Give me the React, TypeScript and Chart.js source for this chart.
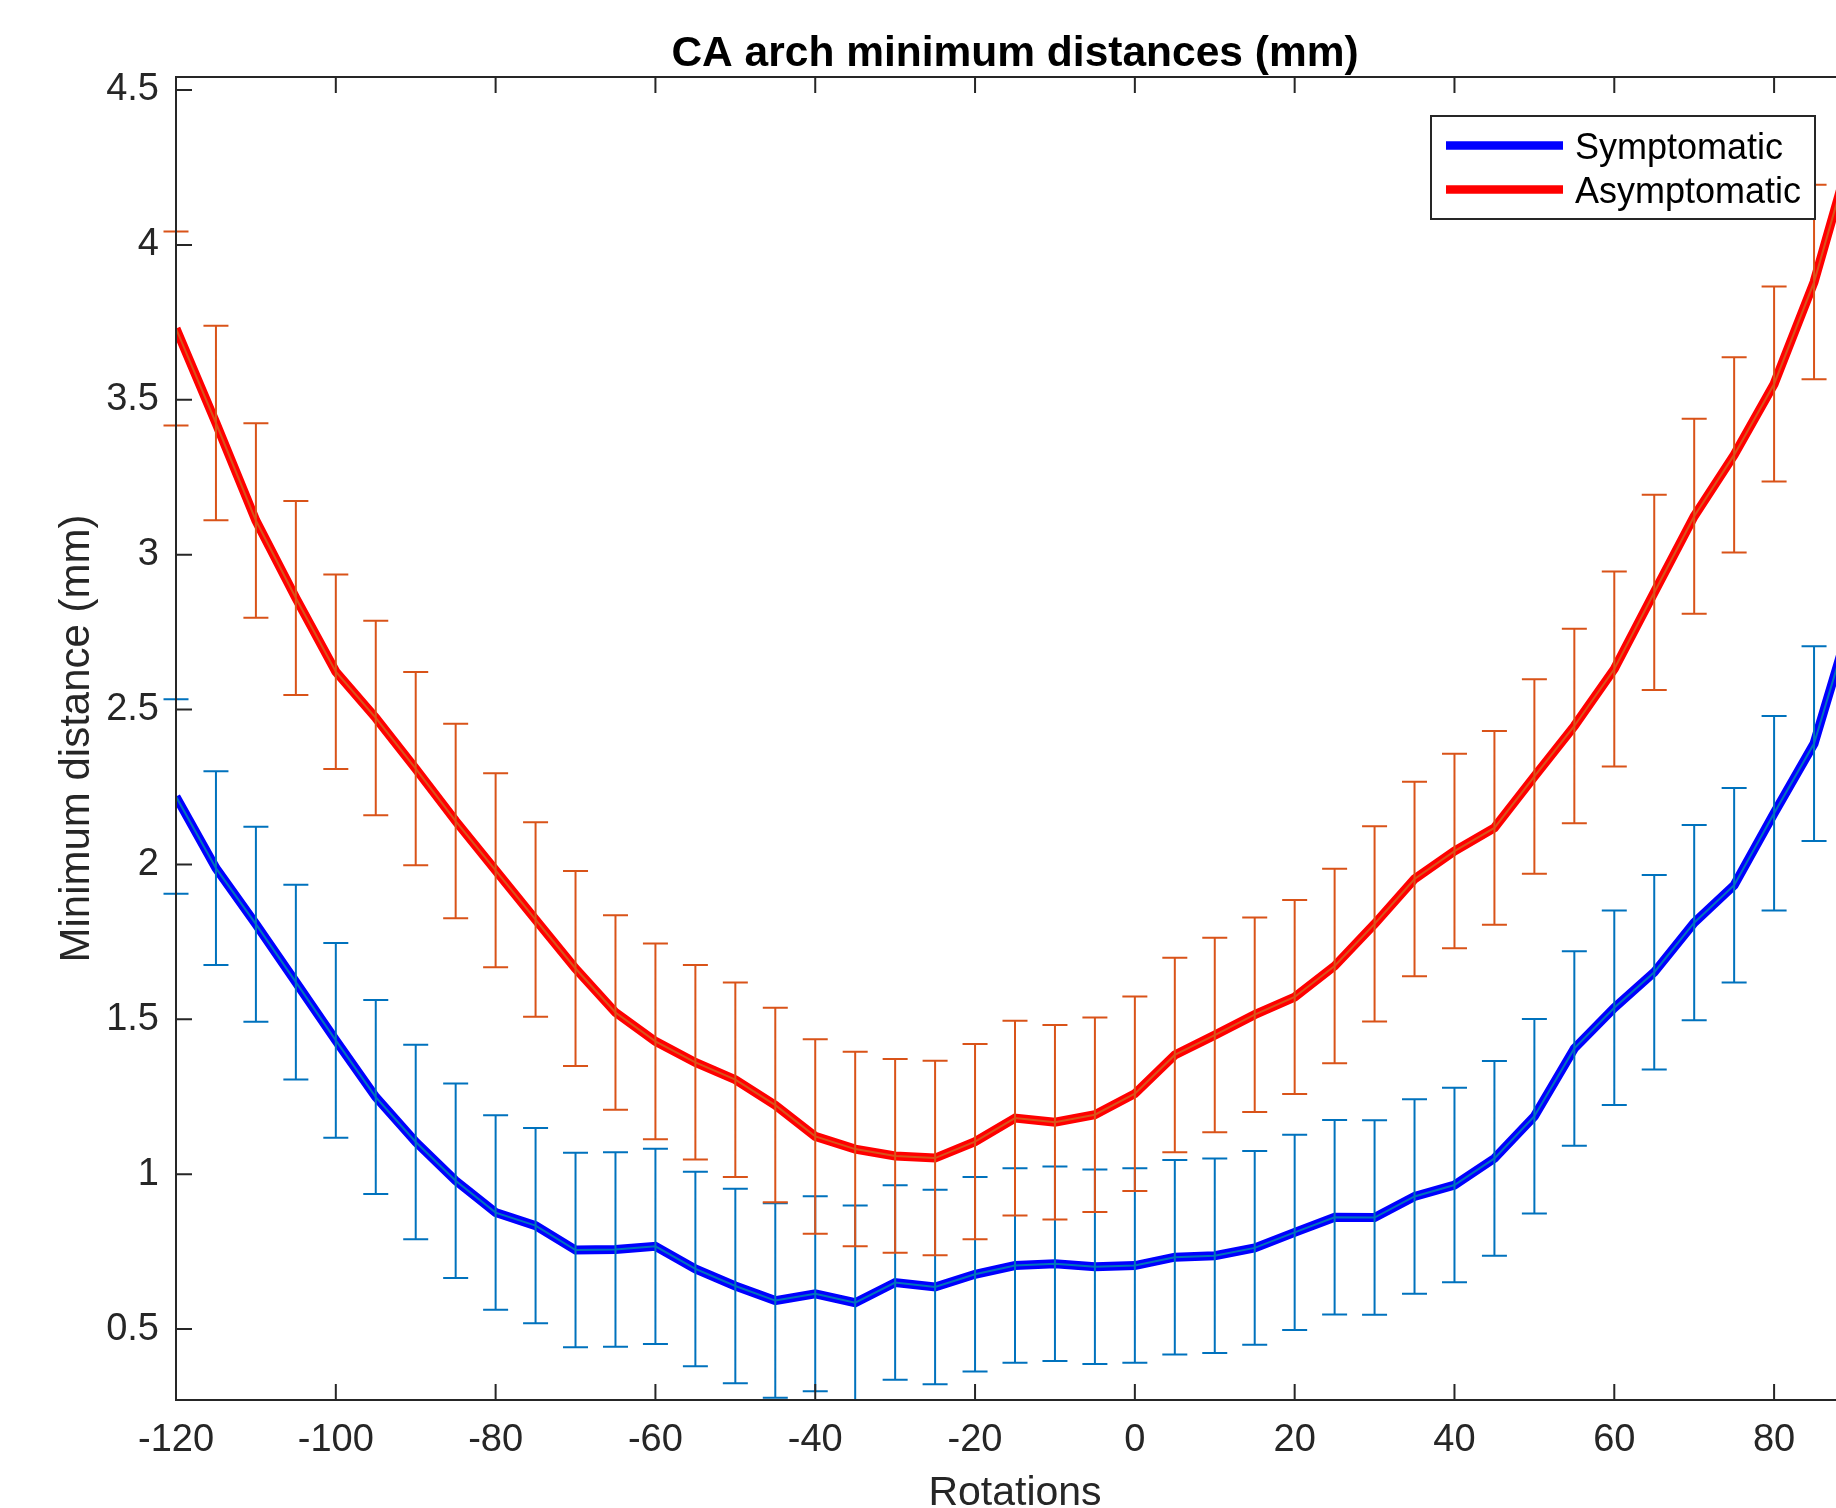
import React, { useEffect, useRef } from "react";
import { Chart, registerables } from "chart.js";

Chart.register(...registerables);

// ---- data ----
const rotations = [-120, -115, -110, -105, -100, -95, -90, -85, -80, -75, -70, -65, -60, -55, -50, -45, -40, -35, -30, -25, -20, -15, -10, -5, 0, 5, 10, 15, 20, 25, 30, 35, 40, 45, 50, 55, 60, 65, 70, 75, 80, 85, 90];

const symptomaticMean = [2.219, 1.988, 1.807, 1.62, 1.432, 1.249, 1.104, 0.979, 0.876, 0.834, 0.755, 0.757, 0.767, 0.694, 0.639, 0.592, 0.614, 0.585, 0.65, 0.636, 0.677, 0.705, 0.711, 0.701, 0.705, 0.732, 0.737, 0.762, 0.812, 0.861, 0.86, 0.928, 0.965, 1.051, 1.187, 1.406, 1.537, 1.652, 1.812, 1.933, 2.165, 2.39, 2.82];

const symptomaticErr = [0.314, 0.313, 0.315, 0.314, 0.314, 0.313, 0.314, 0.314, 0.314, 0.315, 0.314, 0.314, 0.315, 0.314, 0.314, 0.314, 0.315, 0.314, 0.314, 0.314, 0.314, 0.314, 0.314, 0.314, 0.314, 0.314, 0.314, 0.313, 0.315, 0.314, 0.314, 0.314, 0.314, 0.314, 0.314, 0.314, 0.314, 0.314, 0.315, 0.314, 0.314, 0.314, 0.314];

const asymptomaticMean = [3.73, 3.425, 3.11, 2.86, 2.622, 2.473, 2.309, 2.14, 1.981, 1.822, 1.664, 1.522, 1.429, 1.361, 1.305, 1.223, 1.122, 1.081, 1.059, 1.052, 1.105, 1.181, 1.168, 1.192, 1.26, 1.385, 1.449, 1.515, 1.572, 1.672, 1.808, 1.953, 2.043, 2.118, 2.284, 2.447, 2.631, 2.878, 3.124, 3.322, 3.551, 3.88, 4.33];

const asymptomaticErr = [0.313, 0.314, 0.314, 0.313, 0.314, 0.314, 0.312, 0.314, 0.313, 0.314, 0.315, 0.314, 0.316, 0.314, 0.314, 0.314, 0.314, 0.314, 0.313, 0.314, 0.315, 0.314, 0.314, 0.314, 0.314, 0.314, 0.314, 0.314, 0.313, 0.314, 0.315, 0.314, 0.314, 0.313, 0.314, 0.314, 0.315, 0.315, 0.315, 0.315, 0.315, 0.314, 0.314];

const xTicks = [-120, -100, -80, -60, -40, -20, 0, 20, 40, 60, 80];
const yTicks = [0.5, 1, 1.5, 2, 2.5, 3, 3.5, 4, 4.5];
const xLimits = [-120, 90];
const yLimits = [0.271, 4.542];

const seriesLabels = ["Symptomatic", "Asymptomatic"];
const titleText = "CA arch minimum distances (mm)";
const xLabelText = "Rotations";
const yLabelText = "Minimum distance (mm)";

// ---- styles ----
const FONT = '"Liberation Sans", Arial, Helvetica, sans-serif';
const AXIS = "#262626";
const THICK_COLORS = ["#0000FF", "#FF0000"];
const BAR_COLORS = ["#0072BD", "#D95319"];

function drawErrorBars(chart: any, means: number[], errs: number[], color: string) {
  const { ctx, scales } = chart;
  const xs = scales.x;
  const ys = scales.y;
  ctx.strokeStyle = color;
  ctx.lineWidth = 2;
  ctx.beginPath();
  rotations.forEach((r, i) => {
    const px = xs.getPixelForValue(r);
    const top = ys.getPixelForValue(means[i] + errs[i]);
    const bot = ys.getPixelForValue(means[i] - errs[i]);
    ctx.moveTo(px, top);
    ctx.lineTo(px, bot);
    ctx.moveTo(px - 12.5, top);
    ctx.lineTo(px + 12.5, top);
    ctx.moveTo(px - 12.5, bot);
    ctx.lineTo(px + 12.5, bot);
  });
  ctx.stroke();
}

const decorPlugin = {
  id: "matlabDecor",
  afterDatasetsDraw(chart: any) {
    const { ctx, chartArea: a } = chart;
    ctx.save();
    ctx.beginPath();
    ctx.rect(0, a.top - 1, chart.width, a.bottom - a.top + 2);
    ctx.clip();
    drawErrorBars(chart, symptomaticMean, symptomaticErr, BAR_COLORS[0]);
    drawErrorBars(chart, asymptomaticMean, asymptomaticErr, BAR_COLORS[1]);
    ctx.restore();
  },
  afterDraw(chart: any) {
    const { ctx, chartArea: a, scales } = chart;
    const xs = scales.x;
    const ys = scales.y;
    ctx.save();
    // axes box
    ctx.strokeStyle = AXIS;
    ctx.lineWidth = 2;
    ctx.beginPath();
    ctx.rect(a.left, a.top, a.right - a.left, a.bottom - a.top);
    ctx.stroke();
    // inward ticks
    const TL = 16;
    ctx.beginPath();
    xTicks.forEach((v) => {
      const p = xs.getPixelForValue(v);
      ctx.moveTo(p, a.bottom);
      ctx.lineTo(p, a.bottom - TL);
      ctx.moveTo(p, a.top);
      ctx.lineTo(p, a.top + TL);
    });
    yTicks.forEach((v) => {
      const p = ys.getPixelForValue(v);
      ctx.moveTo(a.left, p);
      ctx.lineTo(a.left + TL, p);
      ctx.moveTo(a.right, p);
      ctx.lineTo(a.right - TL, p);
    });
    ctx.stroke();

    const cx = (a.left + a.right) / 2;
    // title
    ctx.fillStyle = "#000";
    ctx.font = `bold 42.5px ${FONT}`;
    ctx.textAlign = "center";
    ctx.textBaseline = "alphabetic";
    ctx.fillText(titleText, cx, a.top - 11);
    // x label
    ctx.fillStyle = AXIS;
    ctx.font = `41px ${FONT}`;
    ctx.fillText(xLabelText, cx, a.bottom + 105);
    // y label
    ctx.save();
    ctx.translate(a.left - 87, (a.top + a.bottom) / 2);
    ctx.rotate(-Math.PI / 2);
    ctx.font = `42px ${FONT}`;
    ctx.fillText(yLabelText, 0, 0);
    ctx.restore();

    // legend
    const lx = a.right - 423;
    const ly = a.top + 39;
    const lw = 384;
    const lh = 103;
    ctx.fillStyle = "#fff";
    ctx.fillRect(lx, ly, lw, lh);
    ctx.strokeStyle = AXIS;
    ctx.lineWidth = 2;
    ctx.strokeRect(lx, ly, lw, lh);
    ctx.font = `36px ${FONT}`;
    ctx.textAlign = "left";
    ctx.textBaseline = "alphabetic";
    seriesLabels.forEach((label, i) => {
      const ry = ly + 29.5 + i * 44;
      ctx.strokeStyle = THICK_COLORS[i];
      ctx.lineWidth = 8.5;
      ctx.beginPath();
      ctx.moveTo(lx + 15, ry);
      ctx.lineTo(lx + 132, ry);
      ctx.stroke();
      ctx.fillStyle = "#000";
      ctx.fillText(label, lx + 144, ry + 13);
    });
    ctx.restore();
  },
};

export default function App() {
  const canvasRef = useRef<HTMLCanvasElement | null>(null);

  useEffect(() => {
    const canvas = canvasRef.current;
    if (!canvas) return;
    const pts = (vals: number[]) => rotations.map((r, i) => ({ x: r, y: vals[i] }));
    const chart = new Chart(canvas, {
      type: "line",
      data: {
        datasets: [
          {
            label: "Asymptomatic (error bar)",
            data: pts(asymptomaticMean),
            borderColor: BAR_COLORS[1],
            borderWidth: 2,
            pointRadius: 0,
            tension: 0,
            order: 0,
          },
          {
            label: "Symptomatic (error bar)",
            data: pts(symptomaticMean),
            borderColor: BAR_COLORS[0],
            borderWidth: 2,
            pointRadius: 0,
            tension: 0,
            order: 0,
          },
          {
            label: seriesLabels[0],
            data: pts(symptomaticMean),
            borderColor: THICK_COLORS[0],
            borderWidth: 9,
            pointRadius: 0,
            tension: 0,
            order: 1,
          },
          {
            label: seriesLabels[1],
            data: pts(asymptomaticMean),
            borderColor: THICK_COLORS[1],
            borderWidth: 9,
            pointRadius: 0,
            tension: 0,
            order: 1,
          },
        ],
      },
      options: {
        responsive: false,
        animation: false,
        devicePixelRatio: 1,
        events: [],
        layout: { padding: { top: 77, right: 46, bottom: 0, left: 0 } },
        plugins: {
          legend: { display: false },
          title: { display: false },
          tooltip: { enabled: false },
        },
        scales: {
          x: {
            type: "linear",
            min: xLimits[0],
            max: xLimits[1],
            afterFit: (s: any) => {
              s.height = 108;
            },
            afterBuildTicks: (s: any) => {
              s.ticks = xTicks.map((v) => ({ value: v }));
            },
            grid: { display: false, drawTicks: false, drawOnChartArea: false },
            border: { display: false },
            ticks: {
              padding: 18,
              color: AXIS,
              font: { family: FONT, size: 38 },
              maxRotation: 0,
              autoSkip: false,
              callback: (v: any) => String(v),
            },
          },
          y: {
            type: "linear",
            min: yLimits[0],
            max: yLimits[1],
            afterFit: (s: any) => {
              s.width = 176;
            },
            afterBuildTicks: (s: any) => {
              s.ticks = yTicks.map((v) => ({ value: v }));
            },
            grid: { display: false, drawTicks: false, drawOnChartArea: false },
            border: { display: false },
            ticks: {
              padding: 17,
              color: AXIS,
              font: { family: FONT, size: 38 },
              autoSkip: false,
              callback: (v: any) => String(v),
            },
          },
        },
      },
      plugins: [decorPlugin],
    });
    return () => chart.destroy();
  }, []);

  return (
    <div
      style={{
        position: "fixed",
        left: 0,
        top: 0,
        width: 1836,
        height: 1508,
        overflow: "hidden",
        background: "#fff",
      }}
    >
      <canvas
        ref={canvasRef}
        width={1900}
        height={1508}
        style={{ display: "block", width: 1900, height: 1508 }}
      />
    </div>
  );
}
